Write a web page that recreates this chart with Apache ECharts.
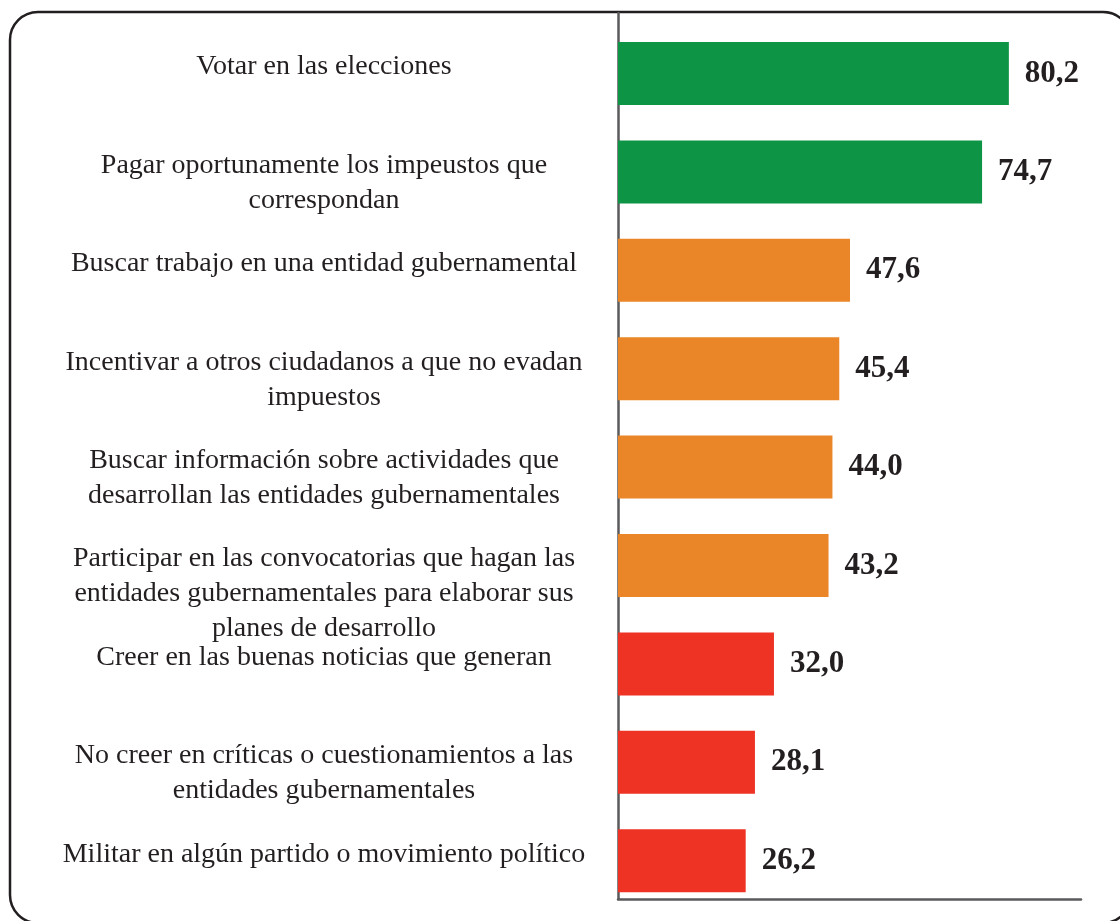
<!DOCTYPE html>
<html>
<head>
<meta charset="utf-8">
<script src="https://cdn.jsdelivr.net/npm/echarts@6/dist/echarts.min.js"></script>
<style>
html,body{margin:0;padding:0;background:#ffffff;}
#chart{width:1120px;height:921px;}
</style>
</head>
<body>
<div id="chart"></div>
<script>
const categories = [
  "Votar en las elecciones",
  "Pagar oportunamente los impeustos que\ncorrespondan",
  "Buscar trabajo en una entidad gubernamental",
  "Incentivar a otros ciudadanos a que no evadan\nimpuestos",
  "Buscar información sobre actividades que\ndesarrollan las entidades gubernamentales",
  "Participar en las convocatorias que hagan las\nentidades gubernamentales para elaborar sus\nplanes de desarrollo",
  "Creer en las buenas noticias que generan",
  "No creer en críticas o cuestionamientos a las\nentidades gubernamentales",
  "Militar en algún partido o movimiento político"
];
const values = [80.2, 74.7, 47.6, 45.4, 44.0, 43.2, 32.0, 28.1, 26.2];
const levels = ["alto", "alto", "medio", "medio", "medio", "medio", "bajo", "bajo", "bajo"];

const levelColors = { alto: "#0e9445", medio: "#ea8627", bajo: "#ee3224" };
const serif = '"Liberation Serif", "Times New Roman", "DejaVu Serif", serif';
const textColor = "#231f20";
const axisColor = "#5a5a5c";

const chart = echarts.init(document.getElementById("chart"), null, { renderer: "canvas" });

const option = {
  backgroundColor: "#ffffff",
  animation: false,
  graphic: [{
    type: "rect",
    z: -10,
    shape: { x: 10, y: 12, width: 1121, height: 911, r: 28 },
    style: { fill: "none", stroke: textColor, lineWidth: 2.5 }
  }],
  grid: [
    { left: 618, width: 463, top: 24.3, height: 885.6 },
    { left: 618, width: 463, top: 13, height: 886 }
  ],
  xAxis: [
    { gridIndex: 0, type: "value", min: 0, max: 95,
      axisLine: { show: false }, axisTick: { show: false },
      axisLabel: { show: false }, splitLine: { show: false } },
    { gridIndex: 1, type: "value", min: 0, max: 95,
      axisLine: { show: true, lineStyle: { color: axisColor, width: 2.5 } },
      axisTick: { show: false }, axisLabel: { show: false }, splitLine: { show: false } }
  ],
  yAxis: [
    { gridIndex: 0, type: "category", data: categories, inverse: true,
      axisLine: { show: false }, axisTick: { show: false },
      axisLabel: {
        interval: 0, margin: 294, align: "center", verticalAlign: "top",
        padding: [-24, 0, 0, 0],
        fontFamily: serif, fontSize: 28, lineHeight: 35, color: textColor
      } },
    { gridIndex: 1, type: "category", data: categories, inverse: true,
      axisLine: { show: true, lineStyle: { color: axisColor, width: 2.5 } },
      axisTick: { show: false }, axisLabel: { show: false }, splitLine: { show: false } }
  ],
  series: [{
    type: "bar",
    xAxisIndex: 0, yAxisIndex: 0,
    data: values,
    barWidth: 63,
    itemStyle: { color: p => levelColors[levels[p.dataIndex]] },
    label: {
      show: true, position: "right", distance: 16,
      fontFamily: serif, fontWeight: "bold", fontSize: 31, color: textColor,
      formatter: p => p.value.toFixed(1).replace(".", ",")
    }
  }]
};
chart.setOption(option);
</script>
</body>
</html>
